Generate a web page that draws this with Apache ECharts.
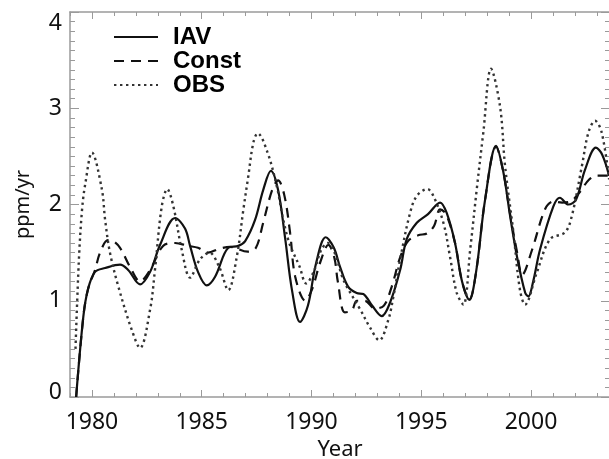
<!DOCTYPE html>
<html>
<head>
<meta charset="utf-8">
<script src="https://cdn.jsdelivr.net/npm/echarts@6/dist/echarts.min.js"></script>
<style>
html,body{margin:0;padding:0;background:#fff;}
#chart{width:609px;height:459px;}
</style>
</head>
<body>
<div id="chart"></div>
<script>
// ---- data ----
const iavYears = [1979.28,1979.61,1979.82,1980.14,1980.6,1981.28,1981.65,1982.19,1982.65,1983.1,1983.79,1984.24,1984.47,1984.83,1985.23,1985.61,1986.21,1986.67,1986.98,1987.43,1987.8,1988.15,1988.48,1988.8,1989.12,1989.48,1989.84,1990.2,1990.65,1991.02,1991.29,1991.66,1992.06,1992.36,1992.76,1993.2,1993.58,1994.04,1994.34,1994.8,1995.31,1995.86,1996.18,1996.54,1996.86,1997.19,1997.5,1997.91,1998.41,1998.73,1999.05,1999.37,1999.74,1999.88,2000.1,2000.41,2001.02,2001.32,2001.7,2002.05,2002.46,2002.96,2003.24,2003.56];
const iavValues = [0.0,0.84,1.12,1.30,1.34,1.375,1.32,1.17,1.30,1.58,1.86,1.75,1.57,1.30,1.16,1.25,1.55,1.57,1.62,1.84,2.15,2.35,2.15,1.65,1.10,0.78,0.95,1.38,1.66,1.55,1.36,1.15,1.08,1.07,0.95,0.84,0.98,1.32,1.64,1.81,1.90,2.02,1.90,1.60,1.20,1.01,1.30,2.05,2.61,2.35,1.88,1.45,1.08,1.045,1.20,1.53,1.98,2.07,2.00,2.05,2.36,2.59,2.52,2.30];

const constYears = [1979.28,1979.61,1979.82,1980.14,1980.37,1980.73,1980.97,1981.28,1981.74,1982.19,1982.65,1983.24,1983.79,1984.38,1984.83,1985.29,1985.8,1986.29,1987.1,1987.47,1987.8,1988.21,1988.48,1988.76,1989.03,1989.26,1989.72,1990.03,1990.4,1990.77,1991.04,1991.2,1991.52,1991.84,1992.07,1992.43,1992.88,1993.3,1993.66,1994.04,1994.4,1994.86,1995.27,1995.59,1995.86,1996.13,1996.54,1996.86,1997.19,1997.5,1997.91,1998.41,1998.73,1999.05,1999.37,1999.6,2000.05,2000.64,2001.01,2001.42,2001.78,2002.19,2002.65,2003.01,2003.56];
const constValues = [0.0,0.84,1.12,1.32,1.50,1.63,1.62,1.55,1.35,1.20,1.32,1.57,1.60,1.57,1.55,1.50,1.54,1.56,1.51,1.55,1.81,2.15,2.25,2.10,1.70,1.25,1.00,1.12,1.40,1.58,1.45,1.20,0.88,0.90,1.00,1.00,0.92,0.95,1.15,1.45,1.62,1.68,1.70,1.78,1.95,1.90,1.60,1.20,1.01,1.30,2.05,2.60,2.35,1.90,1.50,1.27,1.53,1.95,2.03,2.02,2.03,2.12,2.26,2.30,2.30];

const obsYears = [1979.25,1979.4,1979.55,1979.7,1980.0,1980.45,1980.6,1980.82,1981.2,1981.81,1982.19,1982.65,1982.87,1983.18,1983.43,1983.71,1984.09,1984.47,1984.92,1985.35,1985.8,1986.21,1986.6,1986.9,1987.12,1987.35,1987.55,1988.0,1988.45,1988.68,1988.99,1989.45,1989.76,1990.1,1990.45,1990.75,1991.05,1991.4,1991.6,1992.22,1992.67,1993.09,1993.5,1993.73,1994.04,1994.49,1994.8,1995.28,1995.55,1996.01,1996.31,1996.62,1996.92,1997.23,1997.53,1997.83,1998.18,1998.59,1998.82,1999.2,1999.5,1999.73,2000.26,2000.87,2001.55,2001.86,2002.32,2002.62,2002.92,2003.22,2003.56];
const obsValues = [0.5,1.4,1.95,2.22,2.54,2.16,1.84,1.50,1.15,0.70,0.51,0.91,1.32,1.98,2.16,1.98,1.53,1.24,1.43,1.50,1.35,1.11,1.46,1.95,2.29,2.64,2.74,2.54,2.16,1.88,1.60,1.36,1.18,1.30,1.53,1.60,1.50,1.25,1.15,0.91,0.72,0.59,0.80,1.04,1.43,1.91,2.09,2.16,2.09,1.81,1.46,1.08,0.96,1.53,2.16,2.75,3.41,3.02,2.40,1.71,1.11,0.96,1.29,1.64,1.71,1.88,2.40,2.75,2.87,2.75,2.26];

const seriesNames = ['IAV','Const','OBS'];
const majorYears = [1980,1985,1990,1995,2000];
const xName = 'Year';
const yName = 'ppm/yr';

function pairs(xs, ys){ return xs.map((x,i)=>[x, ys[i]]); }

const AXIS_COLOR = '#9a9a9a';
const TEXT_COLOR = '#111';
const FONT = 'Noto Sans';
const TICK_FS = 23;
const XMIN = 1979, XMAX = 2003.6;

function xAxisMinor(pos){
  return {
    type:'value', position:pos, min:XMIN, max:XMAX, interval:1,
    axisLine:{show:true, lineStyle:{color:AXIS_COLOR, width:1.5}},
    axisTick:{show:true, inside:true, length:4, lineStyle:{color:AXIS_COLOR, width:1}},
    axisLabel:{show:false}, splitLine:{show:false}
  };
}
function xAxisMajor(pos, labels){
  return {
    type:'value', position:pos, min:XMIN, max:XMAX,
    name: labels ? xName : '', nameLocation:'middle', nameGap:40,
    nameTextStyle:{fontFamily:FONT, fontSize:22, color:TEXT_COLOR},
    axisLine:{show:false},
    axisTick:{show:true, inside:true, length:7, customValues:majorYears, lineStyle:{color:AXIS_COLOR, width:1}},
    axisLabel:{show:!!labels, customValues:majorYears, margin:14, fontFamily:FONT, fontSize:TICK_FS, color:TEXT_COLOR,
      formatter:(v)=>String(Math.round(v))},
    splitLine:{show:false}
  };
}
function yAxis(pos, labels){
  return {
    type:'value', position:pos, min:0, max:4, interval:1,
    name: labels ? yName : '', nameLocation:'middle', nameGap:37,
    nameTextStyle:{fontFamily:FONT, fontSize:20, color:TEXT_COLOR},
    axisLine:{show:true, lineStyle:{color:AXIS_COLOR, width:1.5}},
    axisTick:{show:true, inside:true, length:9, lineStyle:{color:AXIS_COLOR, width:1}},
    minorTick:{show:true, splitNumber:10, length:5, lineStyle:{color:AXIS_COLOR, width:1}},
    axisLabel:{show:!!labels, margin:8, fontFamily:FONT, fontSize:TICK_FS, color:TEXT_COLOR,
      verticalAlignMaxLabel:'top',
      formatter:(v)=> v === 0 ? '{z|0}' : String(v),
      rich:{z:{fontFamily:FONT, fontSize:TICK_FS, color:TEXT_COLOR, padding:[0,0,10,0]}}},
    splitLine:{show:false}
  };
}

const chart = echarts.init(document.getElementById('chart'), null, {renderer:'canvas'});
const option = {
  backgroundColor:'#fff',
  animation:false,
  grid:{left:70, top:12, width:540, height:385, containLabel:false, outerBoundsMode:'none'},
  legend:{
    orient:'vertical', left:113, top:25, padding:0, itemWidth:44, itemHeight:14, itemGap:0,
    itemStyle:{opacity:0},
    textStyle:{fontFamily:'Liberation Sans', fontWeight:'bold', fontSize:24, color:'#000', lineHeight:23, padding:[0,0,0,10]},
    data:seriesNames
  },
  xAxis:[xAxisMinor('bottom'), xAxisMajor('bottom', true), xAxisMinor('top'), xAxisMajor('top', false)],
  yAxis:[yAxis('left', true), yAxis('right', false)],
  series:[
    {name:seriesNames[0], type:'line', xAxisIndex:0, yAxisIndex:0, data:pairs(iavYears, iavValues),
     smooth:0.35, showSymbol:false, symbol:'none', color:'#111',
     lineStyle:{color:'#111', width:2.2, type:'solid'}},
    {name:seriesNames[1], type:'line', xAxisIndex:0, yAxisIndex:0, data:pairs(constYears, constValues),
     smooth:0.35, showSymbol:false, symbol:'none', color:'#111',
     lineStyle:{color:'#111', width:2.2, type:[10,7]}},
    {name:seriesNames[2], type:'line', xAxisIndex:0, yAxisIndex:0, data:pairs(obsYears, obsValues),
     smooth:0.35, showSymbol:false, symbol:'none', color:'#333',
     lineStyle:{color:'#333', width:2.4, type:[2.4,3.6]}}
  ]
};
chart.setOption(option);
</script>
</body>
</html>
